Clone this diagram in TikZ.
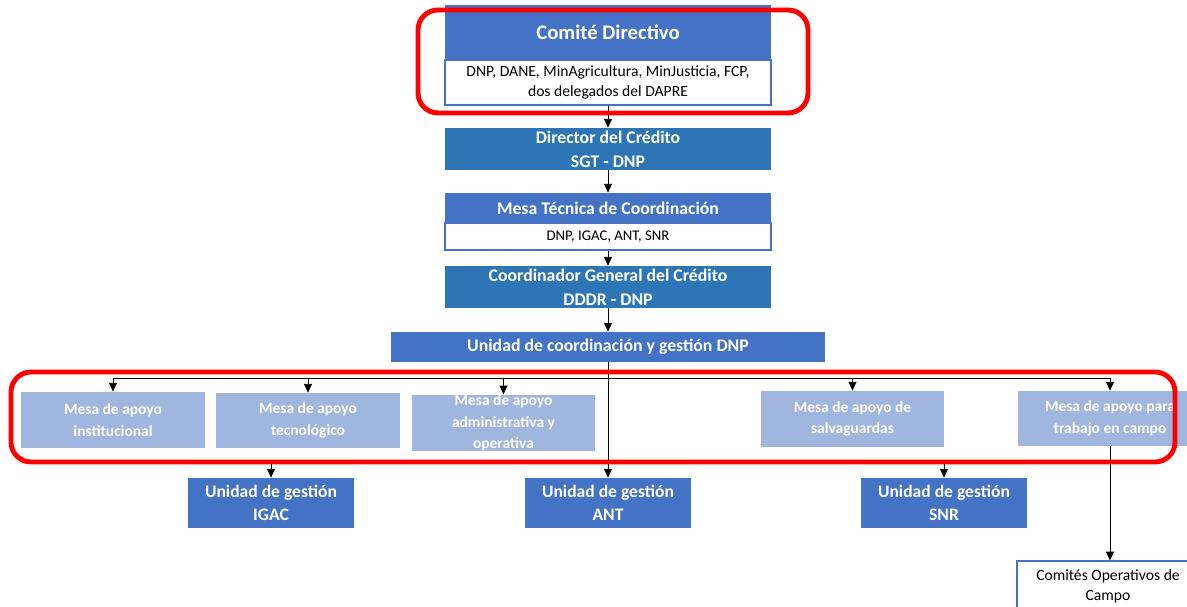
\documentclass[tikz,border=0pt]{standalone}
\usepackage{fontspec}
\setmainfont{Carlito}
\usetikzlibrary{arrows.meta}
\definecolor{cblue}{HTML}{4472C4}
\definecolor{dblue}{HTML}{2E75B6}
\definecolor{lblue}{HTML}{A0B6DE}
\begin{document}
\begin{tikzpicture}[x=0.02cm,y=-0.02cm,
	sz/.style 2 args={minimum width=#1*0.02cm,minimum height=#2*0.02cm},
	titlebox/.style={inner sep=0pt,align=center,text=white,font=\bfseries\fontsize{10.1}{13.6}\selectfont},
	memberbox/.style={draw=cblue,line width=0.6pt,fill=white,inner sep=0pt,align=center,font=\fontsize{8.9}{11.3}\selectfont},
	mesabox/.style={fill=lblue,inner sep=0pt,align=center,text=white,font=\bfseries\fontsize{8.8}{12.3}\selectfont},
	unitbox/.style={fill=cblue,inner sep=0pt,align=center,text=white,sz={166}{50},font=\bfseries\fontsize{10}{13}\selectfont},
	arr/.style={-{Triangle[width=4.5pt,length=5pt]},line width=0.5pt},
	redframe/.style={draw=red,line width=2.8pt,rounded corners=0.4cm}]
			\clip (0,0) rectangle (1187,607);
			
			\node[titlebox,fill=cblue,sz={326}{55},font=\bfseries\fontsize{11.8}{14}\selectfont] (cd) at (608,32.5) {Comité Directivo};
			\node[memberbox,sz={326}{45}] (cdm) at (608,82.5) {DNP, DANE, MinAgricultura, MinJusticia, FCP,\\dos delegados del DAPRE};
			\node[titlebox,fill=dblue,sz={326}{42}] (dir) at (608,149) {Director del Crédito\\SGT - DNP};
			\node[titlebox,fill=cblue,sz={326}{30}] (mtc) at (608,208) {Mesa Técnica de Coordinación};
			\node[memberbox,sz={326}{27},font=\fontsize{8.4}{10}\selectfont] (mtcm) at (608,236.5) {DNP, IGAC, ANT, SNR};
			\node[titlebox,fill=dblue,sz={326}{42}] (coord) at (608,287) {Coordinador General del Crédito\\DDDR - DNP};
			\node[titlebox,fill=cblue,sz={434}{30}] (ucg) at (608,347) {Unidad de coordinación y gestión DNP};
			
			\node[mesabox,sz={184}{56}] (inst) at (113,420) {Mesa de apoyo\\institucional};
			\node[mesabox,sz={184}{55}] (tecn) at (308,420.5) {Mesa de apoyo\\tecnológico};
			\node[mesabox,sz={183}{56}] (adm) at (503.5,423) {Mesa de apoyo\\administrativa y\\operativa};
			\node[mesabox,sz={183}{56}] (salv) at (852.5,419) {Mesa de apoyo de\\salvaguardas};
			\node[mesabox,sz={184}{55}] (camp) at (1110,418.5) {Mesa de apoyo para\\trabajo en campo};
			
			\node[unitbox] (igac) at (271,503) {Unidad de gestión\\IGAC};
			\node[unitbox] (ant) at (608,503) {Unidad de gestión\\ANT};
			\node[unitbox] (snr) at (944,503) {Unidad de gestión\\SNR};
			\node[memberbox,sz={182}{50}] (com) at (1108,586) {Comités Operativos de\\Campo};
			
			\draw [arr] (cdm) -- (dir);
			\draw [arr] (dir) -- (mtc);
			\draw [arr] (mtcm) -- (coord);
			\draw [arr] (coord) -- (ucg);
			\draw [arr] (ucg) -- (ant);
			
			\coordinate (busL) at (113,378);
			\coordinate (busR) at (1110,378);
			\coordinate (low) at (608,464);
			\draw [line width=0.5pt] (busL) -- (busR);
			\foreach \m in {inst,tecn,adm,salv,camp}
				\draw [arr] (\m.north |- busL) -- (\m.north);
			\draw [arr] (igac.north |- low) -- (igac);
			\draw [arr] (snr.north |- low) -- (snr);
			\draw [arr] (camp) -- (camp |- com.north);
			
			\draw [redframe] (418,10) rectangle (808,113);
			\draw [redframe] (11,372) rectangle (1175,462);
\end{tikzpicture}
\end{document}
